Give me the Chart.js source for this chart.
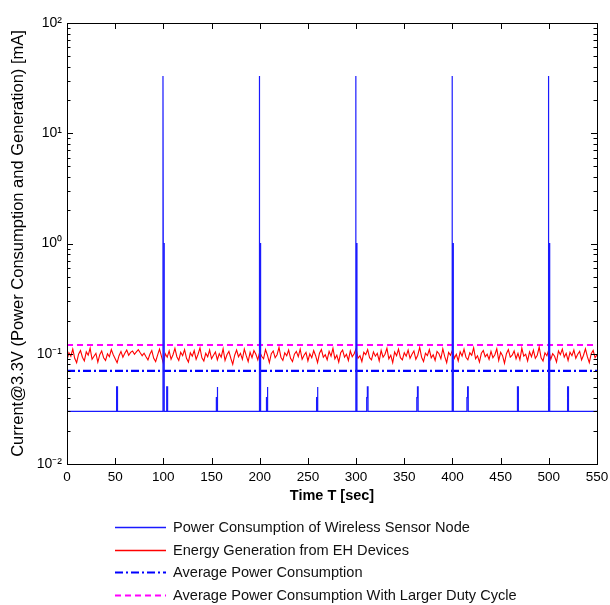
<!DOCTYPE html>
<html>
<head>
<meta charset="utf-8">
<script src="https://cdn.jsdelivr.net/npm/chart.js@4.4.1/dist/chart.umd.min.js"></script>
<style>
  html, body { margin: 0; padding: 0; background: #fff; }
  #wrap { width: 610px; height: 605px; }
</style>
</head>
<body>
<div id="wrap"><canvas id="chart"></canvas></div>
<script>
// sensor node current (mA)
const baseCurrent = 0.03;
const smallSpikeTimes = [52, 104, 156, 208, 260, 312, 364, 416, 468, 520];
const smallSpikeLevels = [0.04, 0.05];
const bigSpikeTimes = [100, 200, 300, 400, 500];
const bigSpikeLevels = [33, 1];

// energy harvesting current, one value every 2 s from 0 to 550
const ehStep = 2;
const ehCurrent = [
  0.088,0.102,0.095,0.110,0.091,0.083,0.099,0.107,0.093,0.086,0.104,0.097,0.112,0.089,0.095,0.101,0.084,0.098,0.106,0.092,
  0.087,0.100,0.094,0.109,0.098,0.090,0.083,0.096,0.105,0.093,0.101,0.108,0.097,0.103,0.106,0.099,0.104,0.109,0.102,0.096,
  0.101,0.094,0.088,0.099,0.107,0.091,0.085,0.097,0.110,0.095,0.082,0.100,0.093,0.106,0.089,0.098,0.112,0.094,0.087,0.103,
  0.096,0.109,0.091,0.084,0.102,0.095,0.107,0.089,0.099,0.113,0.092,0.086,0.101,0.094,0.108,0.090,0.097,0.104,0.088,0.100,
  0.093,0.111,0.087,0.098,0.105,0.091,0.080,0.097,0.108,0.094,0.101,0.089,0.110,0.096,0.085,0.103,0.092,0.107,0.099,0.088,
  0.104,0.095,0.090,0.109,0.097,0.083,0.100,0.106,0.092,0.098,0.114,0.093,0.087,0.102,0.096,0.108,0.091,0.085,0.099,0.105,
  0.094,0.110,0.089,0.097,0.103,0.086,0.100,0.092,0.107,0.096,0.083,0.101,0.109,0.093,0.098,0.088,0.105,0.095,0.112,0.090,
  0.097,0.084,0.102,0.108,0.093,0.099,0.087,0.106,0.094,0.100,0.111,0.091,0.096,0.085,0.103,0.098,0.109,0.092,0.088,0.104,
  0.095,0.101,0.086,0.107,0.093,0.099,0.112,0.090,0.097,0.083,0.104,0.096,0.110,0.092,0.088,0.102,0.095,0.108,0.091,0.099,
  0.106,0.089,0.097,0.114,0.093,0.085,0.101,0.096,0.109,0.092,0.098,0.087,0.105,0.100,0.090,0.111,0.094,0.083,0.103,0.097,
  0.108,0.091,0.099,0.086,0.104,0.095,0.110,0.093,0.088,0.102,0.097,0.113,0.090,0.096,0.084,0.101,0.107,0.094,0.099,0.089,
  0.105,0.092,0.098,0.111,0.087,0.103,0.096,0.082,0.100,0.109,0.093,0.097,0.106,0.090,0.101,0.088,0.112,0.095,0.099,0.086,
  0.104,0.094,0.108,0.091,0.097,0.115,0.092,0.086,0.102,0.096,0.109,0.089,0.100,0.095,0.084,0.106,0.098,0.110,0.093,0.101,
  0.087,0.103,0.096,0.108,0.091,0.099,0.105,0.088,0.097,0.111,0.094,0.083,0.100,0.107,0.092,0.098
];

const avgPower = 0.07;
const avgPowerLarger = 0.12;

const xTicks = [0, 50, 100, 150, 200, 250, 300, 350, 400, 450, 500, 550];
const yTicks = [0.01,0.02,0.03,0.04,0.05,0.06,0.07,0.08,0.09,
                0.1,0.2,0.3,0.4,0.5,0.6,0.7,0.8,0.9,
                1,2,3,4,5,6,7,8,9,
                10,20,30,40,50,60,70,80,90,100];

const labels = [
  "Power Consumption of Wireless Sensor Node",
  "Energy Generation from EH Devices",
  "Average Power Consumption",
  "Average Power Consumption With Larger Duty Cycle"
];

// build the pulse train of the sensor node
const events = [];
smallSpikeTimes.forEach(t => events.push({ t, big: false }));
bigSpikeTimes.forEach(t => events.push({ t, big: true }));
events.sort((a, b) => a.t - b.t);

const nodeData = [{ x: 0, y: baseCurrent }];
events.forEach(e => {
  if (e.big) {
    nodeData.push({ x: e.t - 0.4, y: baseCurrent });
    nodeData.push({ x: e.t - 0.4, y: bigSpikeLevels[0] });
    nodeData.push({ x: e.t - 0.1, y: bigSpikeLevels[1] });
    nodeData.push({ x: e.t + 0.9, y: bigSpikeLevels[1] });
    nodeData.push({ x: e.t + 0.9, y: baseCurrent });
  } else {
    nodeData.push({ x: e.t - 1, y: baseCurrent });
    nodeData.push({ x: e.t - 1, y: smallSpikeLevels[0] });
    nodeData.push({ x: e.t - 0.3, y: smallSpikeLevels[0] });
    nodeData.push({ x: e.t - 0.3, y: smallSpikeLevels[1] });
    nodeData.push({ x: e.t + 0.4, y: smallSpikeLevels[1] });
    nodeData.push({ x: e.t + 0.4, y: baseCurrent });
  }
});
nodeData.push({ x: 550, y: baseCurrent });

const ehData = ehCurrent.map((v, i) => ({ x: i * ehStep, y: v }));
const avgData = [{ x: 0, y: avgPower }, { x: 550, y: avgPower }];
const avgLargerData = [{ x: 0, y: avgPowerLarger }, { x: 550, y: avgPowerLarger }];

const sup = { "-": "\u207B", "0": "\u2070", "1": "\u00B9", "2": "\u00B2" };
const isMajor = v => Math.abs(Math.log10(v) - Math.round(Math.log10(v))) < 1e-9;
const font = "'Liberation Sans', Arial, sans-serif";

// matlab style box with inward ticks
const boxPlugin = {
  id: "box",
  afterDraw(chart) {
    const ctx = chart.ctx;
    const a = chart.chartArea;
    const xs = chart.scales.x, ys = chart.scales.y;
    ctx.save();
    ctx.strokeStyle = "#000";
    ctx.lineWidth = 1;
    ctx.beginPath();
    xTicks.forEach(v => {
      const px = Math.round(xs.getPixelForValue(v)) + 0.5;
      ctx.moveTo(px, a.bottom); ctx.lineTo(px, a.bottom - 6);
      ctx.moveTo(px, a.top); ctx.lineTo(px, a.top + 6);
    });
    yTicks.forEach(v => {
      const py = Math.round(ys.getPixelForValue(v)) + 0.5;
      const len = isMajor(v) ? 6 : 3.5;
      ctx.moveTo(a.left, py); ctx.lineTo(a.left + len, py);
      ctx.moveTo(a.right, py); ctx.lineTo(a.right - len, py);
    });
    ctx.stroke();
    ctx.strokeRect(Math.round(a.left) + 0.5, Math.round(a.top) + 0.5,
                   Math.round(a.right - a.left), Math.round(a.bottom - a.top));
    ctx.restore();
  }
};

// legend stacked under the x axis
const legendPlugin = {
  id: "stackLegend",
  afterDraw(chart) {
    const ctx = chart.ctx;
    const top = chart.height - 78;
    ctx.save();
    ctx.font = "14.6px " + font;
    ctx.textBaseline = "middle";
    chart.data.datasets.forEach((ds, i) => {
      const y = Math.round(top + i * 22.5) + 0.5;
      ctx.strokeStyle = ds.borderColor;
      ctx.lineWidth = ds.borderDash ? 2 : 1.3;
      ctx.setLineDash(ds.borderDash || []);
      ctx.beginPath();
      ctx.moveTo(115, y); ctx.lineTo(166, y);
      ctx.stroke();
      ctx.fillStyle = "#111";
      ctx.fillText(ds.label, 173, y);
    });
    ctx.restore();
  }
};

new Chart(document.getElementById("chart"), {
  type: "line",
  data: {
    datasets: [
      { label: labels[0], data: nodeData, borderColor: "#1a1aff", borderWidth: 1.2, order: 0 },
      { label: labels[1], data: ehData, borderColor: "#ff0000", borderWidth: 1.1, order: 1 },
      { label: labels[2], data: avgData, borderColor: "#0000ff", borderWidth: 2.2, borderDash: [8, 3, 2, 3], order: 2 },
      { label: labels[3], data: avgLargerData, borderColor: "#ff00ff", borderWidth: 2.2, borderDash: [6, 4], order: 3 }
    ]
  },
  options: {
    responsive: true,
    maintainAspectRatio: false,
    animation: false,
    events: [],
    elements: { point: { radius: 0 }, line: { tension: 0 } },
    layout: { padding: { left: 9, right: 13, top: 23, bottom: 100 } },
    plugins: { legend: { display: false }, tooltip: { enabled: false } },
    scales: {
      x: {
        type: "linear",
        min: 0,
        max: 550,
        grid: { display: false, drawTicks: false },
        border: { display: false },
        afterBuildTicks: s => { s.ticks = xTicks.map(v => ({ value: v })); },
        afterFit: s => { s.height = 41; s.paddingLeft = 0; s.paddingRight = 0; },
        ticks: {
          color: "#000",
          padding: 5,
          maxRotation: 0,
          autoSkip: false,
          font: { family: font, size: 13.5 }
        },
        title: {
          display: true,
          text: "Time T [sec]",
          color: "#000",
          padding: { top: 9, bottom: 0 },
          font: { family: font, size: 14.5, weight: "bold" }
        }
      },
      y: {
        type: "logarithmic",
        min: 0.01,
        max: 100,
        grid: { display: false, drawTicks: false },
        border: { display: false },
        afterBuildTicks: s => { s.ticks = yTicks.map(v => ({ value: v })); },
        afterFit: s => { s.width = 58; s.paddingTop = 0; s.paddingBottom = 0; },
        ticks: {
          color: "#000",
          padding: 5,
          autoSkip: false,
          font: { family: font, size: 14 },
          callback: v => {
            if (!isMajor(v)) return "";
            const e = String(Math.round(Math.log10(v)));
            return "10" + e.split("").map(c => sup[c]).join("");
          }
        },
        title: {
          display: true,
          text: "Current@3.3V (Power Consumption and Generation) [mA]",
          color: "#000",
          padding: 0,
          font: { family: font, size: 16.5 }
        }
      }
    }
  },
  plugins: [boxPlugin, legendPlugin]
});
</script>
</body>
</html>
